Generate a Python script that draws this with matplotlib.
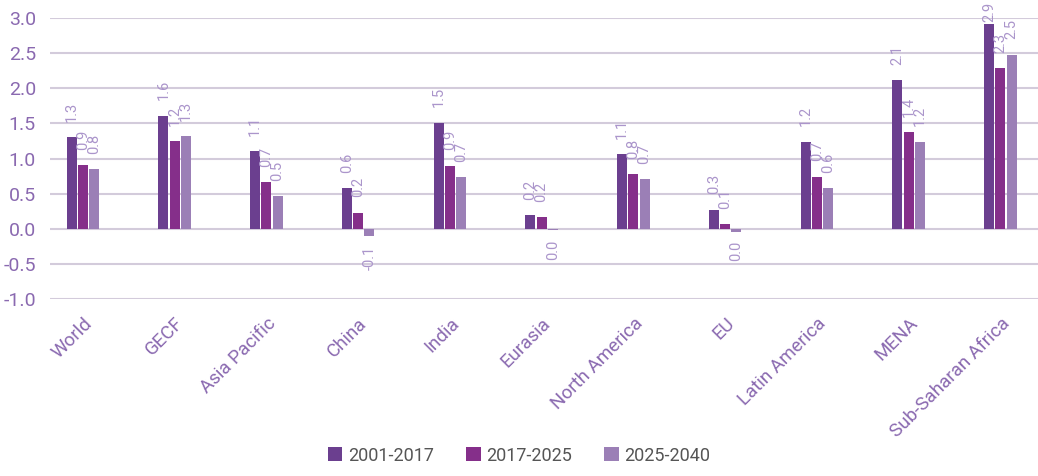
import numpy as np
import matplotlib
matplotlib.use("Agg")
import matplotlib.pyplot as plt

regions = ["World", "GECF", "Asia Pacific", "China", "India", "Eurasia",
           "North America", "EU", "Latin America", "MENA", "Sub-Saharan Africa"]
periods = ["2001-2017", "2017-2025", "2025-2040"]
g_2001_2017 = [1.30, 1.61, 1.11, 0.58, 1.51, 0.19, 1.06, 0.27, 1.24, 2.12, 2.91]
g_2017_2025 = [0.91, 1.25, 0.66, 0.23, 0.90, 0.17, 0.78, 0.07, 0.74, 1.38, 2.29]
g_2025_2040 = [0.85, 1.32, 0.46, -0.11, 0.73, -0.02, 0.71, -0.04, 0.58, 1.24, 2.48]

colors = ["#6b3f8f", "#852f8a", "#9b7fb6"]
label_col = "#ab95cb"
tick_col = "#8a69b0"

plt.rcParams['font.family'] = ['Roboto', 'DejaVu Sans']

fig = plt.figure(figsize=(10.38, 4.76), dpi=100)
ax = fig.add_axes([0.048, 0.372, 0.952, 0.590])

x = np.arange(len(regions))
w = 0.108
step = 0.122
series = [g_2001_2017, g_2017_2025, g_2025_2040]
for i, vals in enumerate(series):
    xs = x + (i - 1) * step
    ax.bar(xs, vals, width=w, color=colors[i], label=periods[i], zorder=3)
    for xi, v in zip(xs, vals):
        txt = f"{v:.1f}"
        if txt == "-0.0":
            txt = "0.0"
        if v >= 0:
            # labels near the top get squeezed against the plot edge
            off = 11 if v < 2.7 else 1.5
            ax.annotate(txt, (xi, v), xytext=(0, off), textcoords="offset points",
                        rotation=90, ha="center", va="bottom", fontsize=10.5,
                        color=label_col, annotation_clip=False)
        else:
            ax.annotate(txt, (xi, v), xytext=(0, -7), textcoords="offset points",
                        rotation=90, ha="center", va="top", fontsize=10.5,
                        color=label_col)

ax.set_ylim(-1.0, 3.0)
ax.set_yticks(np.arange(-1.0, 3.01, 0.5))
ax.set_yticklabels([f"{t:.1f}" for t in np.arange(-1.0, 3.01, 0.5)])
ax.set_xlim(-0.36, 10.41)
ax.set_xticks(x)
ax.set_xticklabels(regions, rotation=45, ha="right", rotation_mode="anchor")

ax.grid(axis="y", color="#d3cbdb", linewidth=1.5, zorder=0)
for s in ax.spines.values():
    s.set_visible(False)
ax.tick_params(axis="x", length=0, labelsize=13.5, colors=tick_col, pad=11)
ax.tick_params(axis="y", length=0, labelsize=14, colors=tick_col, pad=10)

leg = fig.legend(loc="lower center", bbox_to_anchor=(0.5, -0.01), ncol=3,
                 frameon=False, fontsize=13, handlelength=0.8, handleheight=0.8,
                 handletextpad=0.3, columnspacing=1.8)
for t in leg.get_texts():
    t.set_color("#555555")

fig.savefig("out.png", dpi=100)
